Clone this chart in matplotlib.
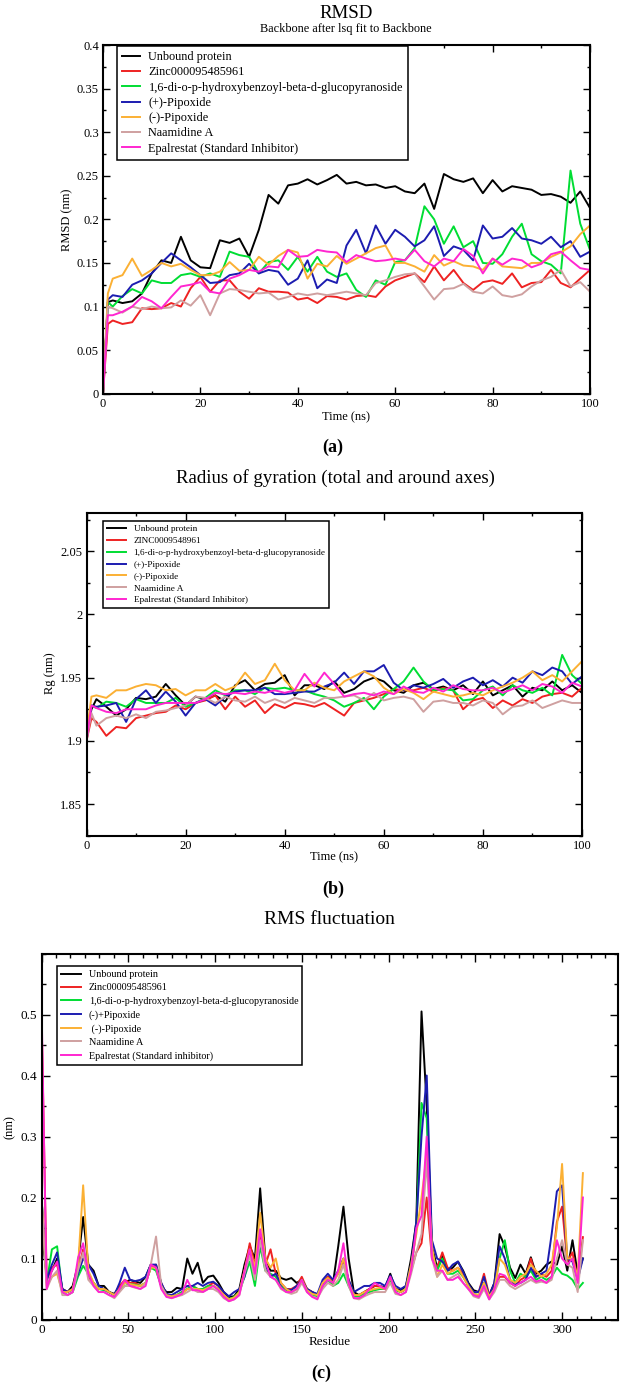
import matplotlib
matplotlib.use('Agg')
import matplotlib.pyplot as plt
from matplotlib.ticker import MultipleLocator, FixedLocator, FuncFormatter

plt.rcParams['font.family'] = ['Liberation Serif', 'DejaVu Serif']

# ---------------- data ----------------
time_ns = [0, 1] + list(range(2, 101, 2))
residues = list(range(0, 313, 3))

colors = ['#000000', '#ee2222', '#00dd33', '#1c1cb0', '#fbb034', '#cfa0a0', '#ff26d0']

labels_rmsd = ['Unbound protein', 'Zinc000095485961',
               '1,6-di-o-p-hydroxybenzoyl-beta-d-glucopyranoside',
               '(+)-Pipoxide', '(-)-Pipoxide', 'Naamidine A',
               'Epalrestat (Standard Inhibitor)']
labels_rg = ['Unbound protein', 'ZINC0009548961',
             '1,6-di-o-p-hydroxybenzoyl-beta-d-glucopyranoside',
             '(+)-Pipoxide', '(-)-Pipoxide', 'Naamidine A',
             'Epalrestat (Standard Inhibitor)']
labels_rmsf = ['Unbound protein', 'Zinc000095485961',
               '1,6-di-o-p-hydroxybenzoyl-beta-d-glucopyranoside',
               '(-)+Pipoxide', ' (-)-Pipoxide', 'Naamidine A',
               'Epalrestat (Standard inhibitor)']

# RMSD (nm)
rmsd_unbound = [0.000, 0.105, 0.107, 0.104, 0.106, 0.115, 0.138, 0.153, 0.150, 0.180, 0.153,
                0.145, 0.144, 0.176, 0.173, 0.178, 0.157, 0.188, 0.228, 0.218, 0.239,
                0.241, 0.246, 0.240, 0.245, 0.251, 0.241, 0.243, 0.239, 0.240, 0.236,
                0.238, 0.232, 0.230, 0.241, 0.212, 0.252, 0.246, 0.243, 0.247, 0.230,
                0.245, 0.232, 0.238, 0.236, 0.234, 0.228, 0.229, 0.226, 0.219, 0.232,
                0.213]
rmsd_zinc = [0.000, 0.080, 0.084, 0.080, 0.082, 0.098, 0.097, 0.098, 0.104, 0.100, 0.121,
             0.134, 0.117, 0.130, 0.130, 0.117, 0.109, 0.121, 0.117, 0.117, 0.116,
             0.108, 0.110, 0.104, 0.112, 0.111, 0.108, 0.112, 0.113, 0.111, 0.123,
             0.130, 0.134, 0.138, 0.128, 0.146, 0.130, 0.142, 0.127, 0.119, 0.128,
             0.130, 0.126, 0.138, 0.122, 0.127, 0.128, 0.142, 0.127, 0.122, 0.132,
             0.142]
rmsd_glucoside = [0.000, 0.105, 0.100, 0.112, 0.120, 0.115, 0.130, 0.127, 0.127, 0.136, 0.138,
                  0.134, 0.138, 0.134, 0.163, 0.159, 0.157, 0.138, 0.151, 0.153, 0.142,
                  0.157, 0.140, 0.157, 0.140, 0.134, 0.138, 0.119, 0.111, 0.130, 0.125,
                  0.151, 0.153, 0.167, 0.215, 0.200, 0.172, 0.192, 0.168, 0.175, 0.150,
                  0.149, 0.160, 0.180, 0.195, 0.160, 0.152, 0.148, 0.138, 0.256, 0.195,
                  0.165]
rmsd_plus_pipoxide = [0.000, 0.108, 0.113, 0.111, 0.125, 0.130, 0.138, 0.150, 0.161, 0.153, 0.145,
                      0.136, 0.127, 0.128, 0.136, 0.138, 0.149, 0.138, 0.142, 0.140, 0.125,
                      0.132, 0.153, 0.121, 0.131, 0.127, 0.170, 0.188, 0.161, 0.193, 0.172,
                      0.188, 0.180, 0.169, 0.176, 0.192, 0.158, 0.169, 0.165, 0.153, 0.193,
                      0.178, 0.180, 0.190, 0.178, 0.176, 0.172, 0.180, 0.168, 0.175, 0.157,
                      0.163]
rmsd_minus_pipoxide = [0.000, 0.115, 0.132, 0.136, 0.155, 0.135, 0.142, 0.150, 0.146, 0.149, 0.142,
                       0.136, 0.136, 0.140, 0.151, 0.141, 0.142, 0.157, 0.148, 0.158, 0.165,
                       0.162, 0.132, 0.149, 0.146, 0.158, 0.149, 0.155, 0.161, 0.167, 0.170,
                       0.150, 0.150, 0.146, 0.140, 0.159, 0.147, 0.152, 0.147, 0.146, 0.142,
                       0.155, 0.146, 0.145, 0.144, 0.150, 0.150, 0.157, 0.162, 0.169, 0.183,
                       0.193]
rmsd_naamidine = [0.000, 0.100, 0.098, 0.093, 0.100, 0.097, 0.100, 0.098, 0.099, 0.107, 0.101,
                  0.113, 0.090, 0.115, 0.120, 0.119, 0.117, 0.115, 0.116, 0.108, 0.111,
                  0.115, 0.113, 0.115, 0.113, 0.115, 0.117, 0.115, 0.113, 0.127, 0.130,
                  0.134, 0.137, 0.138, 0.123, 0.108, 0.120, 0.121, 0.126, 0.117, 0.115,
                  0.123, 0.113, 0.111, 0.114, 0.123, 0.130, 0.134, 0.142, 0.123, 0.128,
                  0.117]
rmsd_epalrestat = [0.000, 0.090, 0.090, 0.094, 0.100, 0.111, 0.106, 0.098, 0.111, 0.123, 0.125,
                   0.128, 0.117, 0.115, 0.132, 0.136, 0.142, 0.140, 0.146, 0.145, 0.165,
                   0.157, 0.158, 0.165, 0.163, 0.162, 0.151, 0.159, 0.155, 0.152, 0.153,
                   0.155, 0.153, 0.165, 0.152, 0.146, 0.155, 0.152, 0.166, 0.158, 0.138,
                   0.155, 0.148, 0.155, 0.153, 0.145, 0.149, 0.160, 0.163, 0.153, 0.144,
                   0.142]

# Radius of gyration (nm)
rg_unbound = [1.905, 1.925, 1.933, 1.927, 1.920, 1.925, 1.934, 1.933, 1.935, 1.945, 1.936,
              1.928, 1.935, 1.933, 1.936, 1.931, 1.944, 1.948, 1.940, 1.945, 1.946,
              1.952, 1.936, 1.944, 1.944, 1.941, 1.947, 1.938, 1.941, 1.947, 1.950,
              1.947, 1.940, 1.938, 1.944, 1.946, 1.941, 1.943, 1.940, 1.944, 1.937,
              1.947, 1.936, 1.940, 1.944, 1.935, 1.942, 1.940, 1.947, 1.940, 1.944,
              1.938]
rg_zinc = [1.900, 1.918, 1.915, 1.904, 1.911, 1.910, 1.918, 1.920, 1.922, 1.923, 1.928,
           1.925, 1.930, 1.932, 1.936, 1.925, 1.935, 1.927, 1.932, 1.922, 1.929,
           1.926, 1.930, 1.929, 1.927, 1.930, 1.925, 1.920, 1.930, 1.932, 1.934,
           1.937, 1.941, 1.940, 1.940, 1.942, 1.939, 1.942, 1.940, 1.925, 1.932,
           1.934, 1.926, 1.932, 1.928, 1.933, 1.930, 1.935, 1.937, 1.938, 1.935,
           1.942]
rg_glucoside = [1.905, 1.928, 1.926, 1.931, 1.930, 1.927, 1.933, 1.930, 1.930, 1.930, 1.934,
                1.927, 1.930, 1.934, 1.940, 1.936, 1.940, 1.940, 1.937, 1.942, 1.941,
                1.942, 1.940, 1.940, 1.937, 1.935, 1.932, 1.927, 1.930, 1.934, 1.925,
                1.935, 1.941, 1.947, 1.958, 1.947, 1.940, 1.941, 1.940, 1.932, 1.933,
                1.940, 1.943, 1.936, 1.944, 1.940, 1.938, 1.942, 1.936, 1.968, 1.952,
                1.945]
rg_plus_pipoxide = [1.900, 1.928, 1.927, 1.928, 1.930, 1.915, 1.933, 1.940, 1.930, 1.939, 1.931,
                    1.920, 1.930, 1.933, 1.928, 1.935, 1.939, 1.940, 1.940, 1.942, 1.937,
                    1.937, 1.938, 1.939, 1.939, 1.943, 1.946, 1.954, 1.945, 1.955, 1.955,
                    1.960, 1.946, 1.940, 1.944, 1.942, 1.945, 1.949, 1.942, 1.947, 1.950,
                    1.944, 1.948, 1.943, 1.950, 1.946, 1.955, 1.952, 1.958, 1.955, 1.945,
                    1.951]
rg_minus_pipoxide = [1.905, 1.935, 1.936, 1.934, 1.940, 1.940, 1.943, 1.945, 1.944, 1.940, 1.941,
                     1.936, 1.940, 1.940, 1.945, 1.940, 1.943, 1.954, 1.945, 1.948, 1.961,
                     1.948, 1.940, 1.940, 1.946, 1.942, 1.940, 1.947, 1.951, 1.955, 1.951,
                     1.942, 1.937, 1.941, 1.938, 1.933, 1.939, 1.937, 1.935, 1.936, 1.938,
                     1.936, 1.940, 1.943, 1.946, 1.950, 1.955, 1.948, 1.952, 1.947, 1.955,
                     1.963]
rg_naamidine = [1.900, 1.922, 1.912, 1.918, 1.920, 1.918, 1.921, 1.918, 1.923, 1.924, 1.926,
                1.928, 1.935, 1.934, 1.930, 1.935, 1.932, 1.931, 1.935, 1.930, 1.933,
                1.930, 1.934, 1.932, 1.930, 1.934, 1.934, 1.935, 1.936, 1.932, 1.938,
                1.932, 1.934, 1.935, 1.933, 1.923, 1.931, 1.932, 1.930, 1.930, 1.928,
                1.932, 1.930, 1.921, 1.927, 1.928, 1.932, 1.926, 1.929, 1.932, 1.930,
                1.930]
rg_epalrestat = [1.900, 1.928, 1.926, 1.923, 1.922, 1.925, 1.925, 1.925, 1.928, 1.930, 1.930,
                 1.930, 1.930, 1.933, 1.938, 1.937, 1.938, 1.937, 1.939, 1.938, 1.940,
                 1.938, 1.940, 1.953, 1.943, 1.954, 1.945, 1.935, 1.937, 1.938, 1.936,
                 1.939, 1.937, 1.943, 1.939, 1.938, 1.942, 1.939, 1.944, 1.941, 1.940,
                 1.940, 1.942, 1.938, 1.941, 1.944, 1.940, 1.945, 1.943, 1.938, 1.946,
                 1.943]

# RMS fluctuation (nm), one value every 3 residues
rmsf_unbound = [0.150, 0.070, 0.080, 0.100, 0.050, 0.045, 0.055, 0.090, 0.168, 0.090,
                0.080, 0.055, 0.055, 0.045, 0.042, 0.055, 0.060, 0.065, 0.062, 0.060,
                0.070, 0.090, 0.085, 0.055, 0.045, 0.045, 0.052, 0.050, 0.100, 0.075,
                0.093, 0.060, 0.070, 0.072, 0.060, 0.045, 0.037, 0.038, 0.050, 0.090,
                0.120, 0.100, 0.215, 0.100, 0.080, 0.080, 0.068, 0.065, 0.068, 0.060,
                0.065, 0.050, 0.045, 0.040, 0.055, 0.070, 0.060, 0.120, 0.185, 0.100,
                0.045, 0.040, 0.045, 0.050, 0.055, 0.055, 0.052, 0.075, 0.050, 0.048,
                0.055, 0.100, 0.160, 0.505, 0.350, 0.120, 0.085, 0.105, 0.080, 0.085,
                0.095, 0.080, 0.060, 0.048, 0.045, 0.060, 0.040, 0.060, 0.140, 0.120,
                0.085, 0.068, 0.090, 0.075, 0.102, 0.075, 0.080, 0.090, 0.095, 0.090,
                0.120, 0.080, 0.130, 0.075, 0.100]
rmsf_zinc = [0.500, 0.065, 0.085, 0.090, 0.050, 0.045, 0.050, 0.080, 0.115, 0.070,
             0.060, 0.050, 0.050, 0.045, 0.040, 0.055, 0.065, 0.060, 0.060, 0.055,
             0.060, 0.085, 0.090, 0.060, 0.040, 0.038, 0.040, 0.045, 0.050, 0.055,
             0.050, 0.050, 0.055, 0.060, 0.055, 0.040, 0.033, 0.035, 0.045, 0.080,
             0.125, 0.090, 0.140, 0.090, 0.115, 0.075, 0.060, 0.050, 0.050, 0.055,
             0.070, 0.050, 0.045, 0.040, 0.060, 0.070, 0.065, 0.075, 0.095, 0.065,
             0.040, 0.040, 0.045, 0.050, 0.055, 0.055, 0.050, 0.070, 0.050, 0.045,
             0.050, 0.080, 0.110, 0.125, 0.200, 0.100, 0.085, 0.110, 0.085, 0.080,
             0.085, 0.075, 0.055, 0.045, 0.045, 0.075, 0.040, 0.055, 0.070, 0.070,
             0.060, 0.055, 0.065, 0.070, 0.100, 0.070, 0.075, 0.070, 0.080, 0.160,
             0.185, 0.095, 0.110, 0.065, 0.135]
rmsf_glucoside = [0.200, 0.060, 0.115, 0.120, 0.045, 0.040, 0.045, 0.070, 0.088, 0.075,
                  0.060, 0.050, 0.048, 0.045, 0.040, 0.050, 0.055, 0.058, 0.057, 0.055,
                  0.060, 0.085, 0.080, 0.055, 0.040, 0.038, 0.040, 0.045, 0.050, 0.055,
                  0.050, 0.050, 0.055, 0.055, 0.050, 0.038, 0.033, 0.037, 0.045, 0.070,
                  0.095, 0.055, 0.120, 0.080, 0.075, 0.070, 0.055, 0.048, 0.045, 0.050,
                  0.065, 0.048, 0.040, 0.038, 0.055, 0.065, 0.055, 0.060, 0.075, 0.055,
                  0.038, 0.038, 0.042, 0.045, 0.048, 0.050, 0.050, 0.065, 0.048, 0.045,
                  0.050, 0.080, 0.150, 0.355, 0.330, 0.110, 0.080, 0.100, 0.075, 0.075,
                  0.080, 0.070, 0.055, 0.042, 0.040, 0.055, 0.035, 0.050, 0.100, 0.130,
                  0.080, 0.060, 0.075, 0.070, 0.080, 0.065, 0.070, 0.065, 0.070, 0.085,
                  0.075, 0.072, 0.065, 0.050, 0.060]
rmsf_plus_pipoxide = [0.200, 0.065, 0.090, 0.110, 0.050, 0.045, 0.050, 0.075, 0.100, 0.090,
                      0.075, 0.055, 0.050, 0.045, 0.040, 0.060, 0.085, 0.065, 0.063, 0.065,
                      0.070, 0.090, 0.090, 0.060, 0.042, 0.040, 0.045, 0.050, 0.055, 0.055,
                      0.060, 0.055, 0.060, 0.062, 0.055, 0.045, 0.038, 0.045, 0.050, 0.070,
                      0.110, 0.075, 0.125, 0.090, 0.070, 0.075, 0.058, 0.050, 0.048, 0.055,
                      0.065, 0.050, 0.045, 0.042, 0.065, 0.075, 0.065, 0.080, 0.100, 0.065,
                      0.045, 0.050, 0.055, 0.055, 0.060, 0.060, 0.055, 0.072, 0.055, 0.050,
                      0.055, 0.090, 0.160, 0.300, 0.400, 0.130, 0.100, 0.095, 0.080, 0.090,
                      0.095, 0.078, 0.058, 0.045, 0.045, 0.070, 0.038, 0.060, 0.120, 0.100,
                      0.065, 0.058, 0.060, 0.065, 0.085, 0.070, 0.075, 0.080, 0.140, 0.210,
                      0.220, 0.100, 0.095, 0.065, 0.100]
rmsf_minus_pipoxide = [0.200, 0.055, 0.070, 0.075, 0.045, 0.045, 0.050, 0.085, 0.220, 0.080,
                       0.060, 0.050, 0.050, 0.045, 0.040, 0.050, 0.060, 0.058, 0.056, 0.055,
                       0.060, 0.085, 0.085, 0.055, 0.040, 0.038, 0.040, 0.042, 0.050, 0.050,
                       0.050, 0.048, 0.052, 0.055, 0.050, 0.040, 0.033, 0.036, 0.045, 0.080,
                       0.115, 0.085, 0.175, 0.100, 0.085, 0.100, 0.060, 0.050, 0.045, 0.050,
                       0.065, 0.048, 0.042, 0.040, 0.060, 0.068, 0.060, 0.075, 0.100, 0.060,
                       0.040, 0.040, 0.045, 0.048, 0.050, 0.052, 0.050, 0.068, 0.050, 0.045,
                       0.050, 0.090, 0.140, 0.200, 0.270, 0.120, 0.070, 0.090, 0.075, 0.080,
                       0.085, 0.070, 0.055, 0.042, 0.040, 0.060, 0.038, 0.050, 0.100, 0.090,
                       0.065, 0.060, 0.070, 0.075, 0.090, 0.080, 0.070, 0.075, 0.090, 0.150,
                       0.255, 0.100, 0.100, 0.070, 0.240]
rmsf_naamidine = [0.200, 0.050, 0.070, 0.080, 0.040, 0.040, 0.045, 0.080, 0.110, 0.065,
                  0.055, 0.045, 0.045, 0.040, 0.035, 0.045, 0.055, 0.055, 0.052, 0.050,
                  0.060, 0.090, 0.136, 0.055, 0.038, 0.035, 0.038, 0.040, 0.045, 0.050,
                  0.045, 0.045, 0.050, 0.050, 0.045, 0.035, 0.030, 0.033, 0.040, 0.075,
                  0.105, 0.065, 0.130, 0.080, 0.070, 0.065, 0.050, 0.045, 0.042, 0.045,
                  0.060, 0.045, 0.038, 0.035, 0.050, 0.060, 0.055, 0.065, 0.090, 0.055,
                  0.035, 0.033, 0.038, 0.042, 0.045, 0.045, 0.045, 0.060, 0.042, 0.040,
                  0.045, 0.075, 0.110, 0.140, 0.260, 0.100, 0.070, 0.080, 0.065, 0.070,
                  0.075, 0.060, 0.050, 0.038, 0.035, 0.050, 0.033, 0.045, 0.065, 0.065,
                  0.055, 0.050, 0.055, 0.060, 0.065, 0.060, 0.062, 0.060, 0.065, 0.100,
                  0.130, 0.090, 0.085, 0.045, 0.130]
rmsf_epalrestat = [0.520, 0.050, 0.080, 0.095, 0.045, 0.040, 0.045, 0.100, 0.125, 0.075,
                   0.055, 0.045, 0.045, 0.040, 0.037, 0.050, 0.065, 0.055, 0.053, 0.050,
                   0.055, 0.090, 0.085, 0.050, 0.037, 0.035, 0.038, 0.042, 0.065, 0.048,
                   0.048, 0.045, 0.050, 0.055, 0.048, 0.037, 0.030, 0.033, 0.040, 0.080,
                   0.115, 0.075, 0.148, 0.095, 0.070, 0.065, 0.052, 0.045, 0.045, 0.050,
                   0.065, 0.045, 0.037, 0.033, 0.055, 0.065, 0.060, 0.080, 0.125, 0.060,
                   0.035, 0.035, 0.040, 0.050, 0.060, 0.055, 0.050, 0.070, 0.045, 0.040,
                   0.045, 0.080, 0.150, 0.170, 0.300, 0.100, 0.080, 0.080, 0.065, 0.065,
                   0.070, 0.060, 0.050, 0.040, 0.037, 0.055, 0.033, 0.050, 0.075, 0.072,
                   0.060, 0.055, 0.060, 0.065, 0.070, 0.062, 0.065, 0.060, 0.070, 0.130,
                   0.100, 0.090, 0.100, 0.060, 0.200]

rmsd_series = [rmsd_unbound, rmsd_zinc, rmsd_glucoside, rmsd_plus_pipoxide,
               rmsd_minus_pipoxide, rmsd_naamidine, rmsd_epalrestat]
rg_series = [rg_unbound, rg_zinc, rg_glucoside, rg_plus_pipoxide,
             rg_minus_pipoxide, rg_naamidine, rg_epalrestat]
rmsf_series = [rmsf_unbound, rmsf_zinc, rmsf_glucoside, rmsf_plus_pipoxide,
               rmsf_minus_pipoxide, rmsf_naamidine, rmsf_epalrestat]

# ---------------- figure ----------------
W, H = 624, 1383
fig = plt.figure(figsize=(W / 100, H / 100), dpi=100)


def add_axes_px(left, top, right, bottom):
    return fig.add_axes([left / W, 1 - bottom / H, (right - left) / W, (bottom - top) / H])


def fig_text(x, y, s, **kw):
    fig.text(x / W, 1 - y / H, s, ha='center', va='center', **kw)


def style_axes(ax, fs, major_len, minor_len):
    for sp in ax.spines.values():
        sp.set_linewidth(1.5)
    ax.tick_params(which='both', direction='in', top=True, right=True,
                   labelsize=fs, width=1.0, pad=3)
    ax.tick_params(which='major', length=major_len)
    ax.tick_params(which='minor', length=minor_len)
    fmt = FuncFormatter(lambda v, p: '%g' % round(v, 4))
    ax.xaxis.set_major_formatter(fmt)
    ax.yaxis.set_major_formatter(fmt)


def add_legend(ax, anchor, fs, spacing, hlen, hpad):
    leg = ax.legend(loc='upper left', bbox_to_anchor=anchor, fontsize=fs,
                    frameon=True, fancybox=False, framealpha=1, edgecolor='black',
                    borderaxespad=0, handlelength=hlen, handletextpad=hpad,
                    labelspacing=spacing, borderpad=0.4)
    leg.get_frame().set_linewidth(1.1)


# (a) RMSD
ax_a = add_axes_px(103, 45, 590, 393.7)
for vals, lab, c in zip(rmsd_series, labels_rmsd, colors):
    ax_a.plot(time_ns, vals, color=c, lw=1.4, label=lab)
ax_a.set_xlim(0, 100)
ax_a.set_ylim(0, 0.4)
ax_a.xaxis.set_major_locator(MultipleLocator(20))
ax_a.xaxis.set_minor_locator(MultipleLocator(10))
ax_a.yaxis.set_major_locator(MultipleLocator(0.05))
ax_a.yaxis.set_minor_locator(MultipleLocator(0.025))
style_axes(ax_a, 9, 5, 2.5)
ax_a.set_xlabel('Time (ns)', fontsize=9, va='center')
ax_a.xaxis.set_label_coords(0.499, -0.067)
ax_a.set_ylabel('RMSD (nm)', fontsize=9, va='center')
ax_a.yaxis.set_label_coords(-0.073, 0.498)
add_legend(ax_a, (0.028, 0.997), 8.8, 0.27, 1.55, 0.65)
fig_text(346, 13, 'RMSD', fontsize=13.6)
fig_text(346, 29, 'Backbone after lsq fit to Backbone', fontsize=8.8)
fig_text(333, 447, '(a)', fontsize=13, fontweight='bold')

# (b) Radius of gyration
ax_b = add_axes_px(86.5, 513.3, 582, 835.7)
for vals, lab, c in zip(rg_series, labels_rg, colors):
    ax_b.plot(time_ns, vals, color=c, lw=1.4, label=lab)
ax_b.set_xlim(0, 100)
ax_b.set_ylim(1.825, 2.08)
ax_b.xaxis.set_major_locator(MultipleLocator(20))
ax_b.xaxis.set_minor_locator(MultipleLocator(10))
ax_b.yaxis.set_major_locator(MultipleLocator(0.05))
ax_b.yaxis.set_minor_locator(MultipleLocator(0.025))
style_axes(ax_b, 9, 5, 2.5)
ax_b.set_xlabel('Time (ns)', fontsize=9, va='center')
ax_b.xaxis.set_label_coords(0.4995, -0.067)
ax_b.set_ylabel('Rg (nm)', fontsize=9, va='center')
ax_b.yaxis.set_label_coords(-0.074, 0.505)
add_legend(ax_b, (0.034, 0.976), 6.7, 0.36, 2.0, 0.85)
fig_text(335, 478, 'Radius of gyration (total and around axes)', fontsize=13.6)
fig_text(333, 889, '(b)', fontsize=13, fontweight='bold')

# (c) RMS fluctuation
ax_c = add_axes_px(41.5, 953.5, 617.6, 1319.5)
for vals, lab, c in zip(rmsf_series, labels_rmsf, colors):
    ax_c.plot(residues, vals, color=c, lw=1.4, label=lab)
ax_c.set_xlim(0, 332)
ax_c.set_ylim(0, 0.6)
ax_c.xaxis.set_major_locator(MultipleLocator(50))
ax_c.xaxis.set_minor_locator(MultipleLocator(50 / 6))
ax_c.yaxis.set_major_locator(FixedLocator([0, 0.1, 0.2, 0.3, 0.4, 0.5]))
ax_c.yaxis.set_minor_locator(MultipleLocator(0.05))
style_axes(ax_c, 9.5, 6, 3)
ax_c.set_xlabel('Residue', fontsize=9.4, va='center')
ax_c.xaxis.set_label_coords(0.5, -0.0615)
ax_c.set_ylabel('(nm)', fontsize=9, va='center')
ax_c.yaxis.set_label_coords(-0.055, 0.526)
add_legend(ax_c, (0.027, 0.966), 7.3, 0.42, 1.95, 0.78)
fig_text(329, 919, 'RMS fluctuation', fontsize=14)
fig_text(321, 1373, '(c)', fontsize=13, fontweight='bold')

fig.savefig('out.png', dpi=100)
